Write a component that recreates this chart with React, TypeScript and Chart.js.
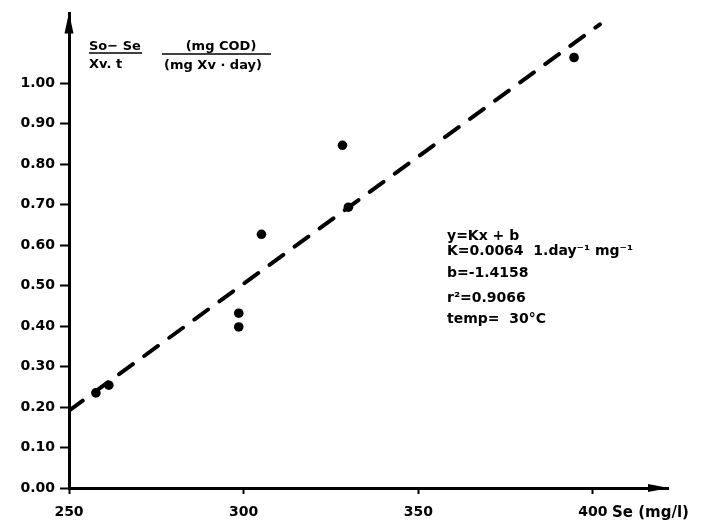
import { useEffect, useRef } from "react";
import { Chart, registerables } from "chart.js";

Chart.register(...registerables);

// Observed data (Se in mg/l, specific substrate removal rate)
const seValues = [257.7, 261.4, 298.6, 298.6, 305.1, 328.3, 330.0, 394.6];
const rateValues = [0.235, 0.254, 0.432, 0.398, 0.627, 0.847, 0.694, 1.064];

// Regression line end points
const fitX = [250, 402];
const fitY = [0.191, 1.146];

// Tick labels
const xTicks = [250, 300, 350, 400];
const yTicks = [0, 0.1, 0.2, 0.3, 0.4, 0.5, 0.6, 0.7, 0.8, 0.9, 1.0];

// Annotation lines
const annotationLines = [
  "y=Kx + b",
  "K=0.0064  1.day⁻¹ mg⁻¹",
  "b=-1.4158",
  "r²=0.9066",
  "temp=  30°C",
];

const FONT = "'DejaVu Sans', sans-serif";

const decorPlugin = {
  id: "decor",
  afterDraw(chart: any) {
    const ctx = chart.ctx as CanvasRenderingContext2D;
    const area = chart.chartArea;
    ctx.save();
    ctx.fillStyle = "#000";
    ctx.strokeStyle = "#000";

    // Y axis arrow head
    const ax = area.left;
    ctx.beginPath();
    ctx.moveTo(ax, area.top - 1);
    ctx.lineTo(ax - 4.5, area.top + 20);
    ctx.lineTo(ax + 4.5, area.top + 20);
    ctx.closePath();
    ctx.fill();

    // X axis arrow head
    const ay = area.bottom;
    ctx.beginPath();
    ctx.moveTo(area.right + 1, ay);
    ctx.lineTo(area.right - 20, ay - 4);
    ctx.lineTo(area.right - 20, ay + 4);
    ctx.closePath();
    ctx.fill();

    // X axis title
    ctx.font = `bold 15px ${FONT}`;
    ctx.textAlign = "left";
    ctx.textBaseline = "alphabetic";
    ctx.fillText("Se (mg/l)", 612, 517);

    // Y axis title (fractions)
    ctx.font = `bold 13px ${FONT}`;
    ctx.textAlign = "left";
    ctx.fillText("So− Se", 89, 50);
    ctx.fillText("Xv. t", 89, 68);
    ctx.lineWidth = 1.5;
    ctx.beginPath();
    ctx.moveTo(89, 53);
    ctx.lineTo(142, 53);
    ctx.stroke();

    ctx.textAlign = "center";
    ctx.fillText("(mg COD)", 221, 50);
    ctx.fillText("(mg Xv · day)", 213, 69);
    ctx.beginPath();
    ctx.moveTo(162, 54);
    ctx.lineTo(271, 54);
    ctx.stroke();

    // Regression annotation
    ctx.font = `bold 14px ${FONT}`;
    ctx.textAlign = "left";
    const baselines = [240, 255, 277, 302, 323];
    annotationLines.forEach((t, i) => ctx.fillText(t, 447, baselines[i]));

    ctx.restore();
  },
};

export default function App() {
  const ref = useRef<HTMLCanvasElement | null>(null);

  useEffect(() => {
    document.body.style.margin = "0";
    const canvas = ref.current;
    if (!canvas) return;
    const chart = new Chart(canvas, {
      type: "scatter",
      data: {
        datasets: [
          {
            label: "fit",
            type: "line",
            data: fitX.map((x, i) => ({ x, y: fitY[i] })),
            borderColor: "#000",
            borderWidth: 4,
            borderDash: [17, 14],
            borderCapStyle: "round",
            pointRadius: 0,
            fill: false,
          } as any,
          {
            label: "data",
            data: seValues.map((x, i) => ({ x, y: rateValues[i] })),
            backgroundColor: "#000",
            borderColor: "#000",
            borderWidth: 0,
            pointRadius: 4.8,
          },
        ],
      },
      options: {
        responsive: false,
        animation: false,
        events: [],
        layout: { padding: { top: 13, right: 40, left: 0, bottom: 0 } },
        plugins: {
          legend: { display: false },
          tooltip: { enabled: false },
          title: { display: false },
        },
        scales: {
          x: {
            type: "linear",
            min: 250,
            max: 421.5,
            afterBuildTicks: (s: any) => {
              s.ticks = xTicks.map((v) => ({ value: v }));
            },
            afterFit: (s: any) => {
              s.height = 32;
            },
            ticks: {
              color: "#000",
              font: { family: FONT, size: 14, weight: "bold" },
              padding: 10,
              maxRotation: 0,
              callback: (v: any) => String(v),
            },
            grid: {
              drawOnChartArea: false,
              drawTicks: true,
              tickLength: 6,
              tickColor: "#000",
              tickWidth: 2,
            },
            border: { display: true, color: "#000", width: 3 },
          },
          y: {
            type: "linear",
            min: 0,
            max: 1.173,
            afterBuildTicks: (s: any) => {
              s.ticks = yTicks.map((v) => ({ value: v }));
            },
            afterFit: (s: any) => {
              s.width = 69;
            },
            ticks: {
              color: "#000",
              font: { family: FONT, size: 14, weight: "bold" },
              padding: 5,
              callback: (v: any) => Number(v).toFixed(2),
            },
            grid: {
              drawOnChartArea: false,
              drawTicks: true,
              tickLength: 9,
              tickColor: "#000",
              tickWidth: 2,
            },
            border: { display: true, color: "#000", width: 3 },
          },
        },
      },
      plugins: [decorPlugin],
    });
    return () => chart.destroy();
  }, []);

  return (
    <div style={{ position: "absolute", left: 0, top: 0, width: 708, height: 520, background: "#fff" }}>
      <canvas ref={ref} width={708} height={520} style={{ display: "block" }} />
    </div>
  );
}
